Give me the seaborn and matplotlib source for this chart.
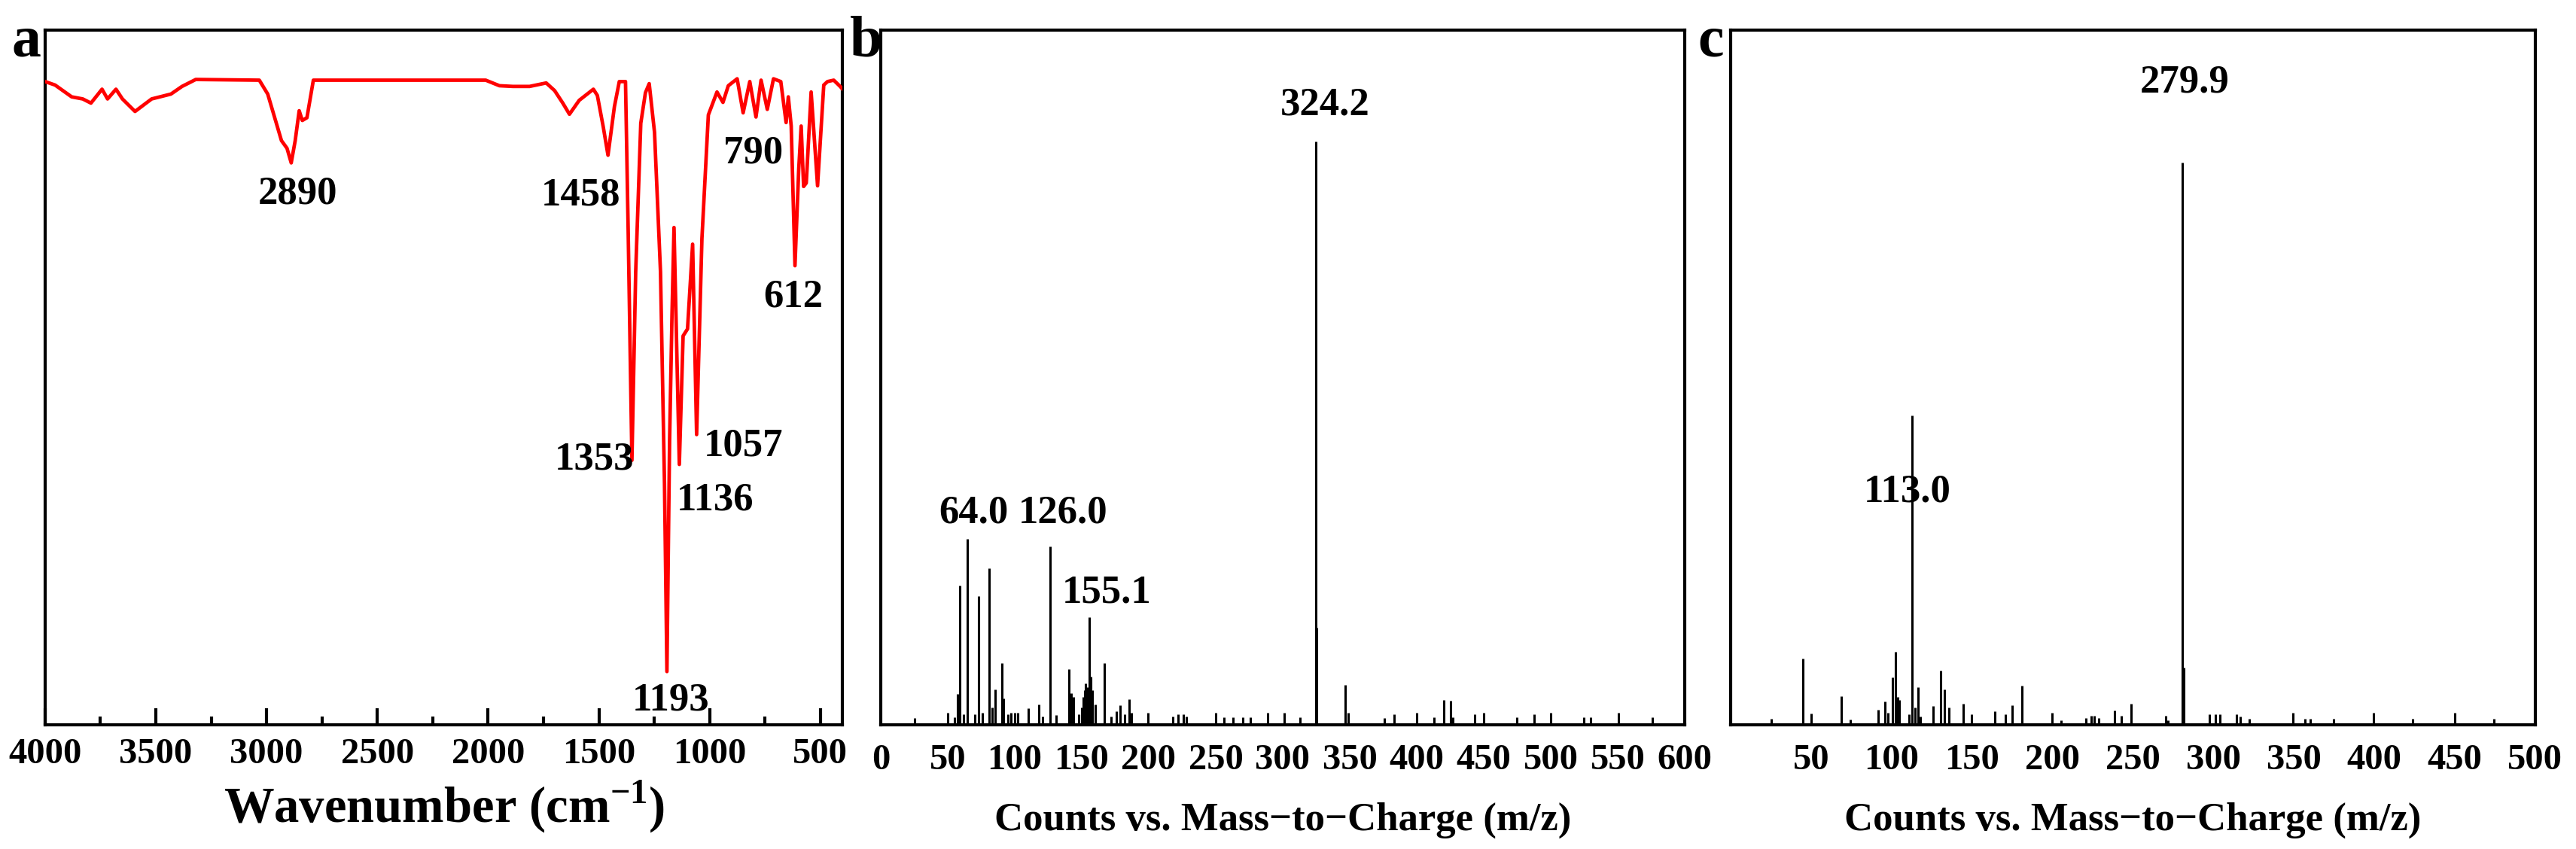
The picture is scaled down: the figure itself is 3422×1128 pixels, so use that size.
import numpy as np
import pandas as pd
import matplotlib
matplotlib.use("Agg")
import matplotlib.pyplot as plt
from matplotlib.ticker import MultipleLocator
import seaborn as sns

# FT-IR spectrum (wavenumber, transmittance in axis %)
ir_wn = [4000, 3955, 3880, 3830, 3793, 3743, 3718, 3680, 3651, 3594, 3519, 3432,
         3382, 3320, 3033, 2995, 2970, 2933, 2908, 2889, 2871, 2853, 2839, 2818,
         2789, 2011, 1949, 1888, 1813, 1738, 1700, 1663, 1633, 1589, 1525, 1507,
         1480, 1459, 1430, 1408, 1380, 1368, 1351, 1334, 1311, 1290, 1273, 1249,
         1222, 1204, 1193, 1181, 1170, 1161, 1137, 1120, 1100, 1077, 1059, 1035,
         1006, 967, 940, 916, 900, 876, 849, 819, 791, 768, 740, 712, 679, 655,
         645, 632, 615, 598, 587, 576, 564, 542, 513, 485, 468, 440, 411, 400]
ir_t = [92.6, 92.1, 90.4, 90.1, 89.5, 91.5, 90.1, 91.5, 90.1, 88.3, 90.1, 90.8,
        91.9, 92.9, 92.8, 90.8, 88.1, 84.1, 83.0, 80.9, 84.1, 88.4, 87.0, 87.4,
        92.8, 92.8, 92.0, 91.9, 91.9, 92.4, 91.3, 89.5, 87.9, 89.9, 91.5, 90.6,
        86.0, 82.0, 89.0, 92.6, 92.6, 71.3, 38.1, 65.2, 86.6, 91.0, 92.3, 85.3,
        65.2, 34.8, 7.7, 40.9, 59.2, 71.6, 37.5, 56.0, 57.0, 69.2, 41.8, 70.0,
        87.8, 91.1, 89.6, 92.0, 92.4, 93.0, 88.1, 92.6, 87.5, 92.8, 88.6, 93.0,
        92.6, 86.7, 90.4, 86.2, 66.1, 80.0, 86.2, 77.5, 78.0, 91.1, 77.6, 92.1,
        92.6, 92.8, 91.9, 91.5]
ir_labels = ["2890", "1458", "790", "612", "1353", "1057", "1136", "1193"]
ir_label_x = [2859, 1582, 804, 624, 1521, 849, 974, 1175]
ir_label_y = [76.4, 76.2, 82.3, 61.6, 38.2, 40.2, 32.4, 3.6]

# mass spectrum b
b_mz = [25.2, 49.9, 55, 57.5, 59.2, 62, 64.7, 70, 72.9, 76, 81.1, 83, 85.4, 90.7,
        91.5, 95, 97, 100, 102, 110, 118, 121, 126.2, 131, 140.2, 142, 144, 148,
        150, 151, 152, 153, 154, 155.6, 156.5, 157, 158, 160, 167.1, 172, 176,
        178.9, 182, 185.3, 187, 199.3, 218, 222, 226, 228, 249.8, 256, 263, 270,
        276, 289, 301, 312.8, 324.7, 325.5, 346.5, 349, 375.6, 383, 400, 413,
        420, 425.3, 427, 443, 450, 474.7, 487.4, 500, 525, 530, 550.6, 576]
b_counts = [1.0, 1.8, 1.1, 4.5, 20.1, 1.5, 26.8, 1.5, 18.6, 1.8, 22.6, 2.5, 5.1, 8.9,
            3.8, 1.5, 1.8, 1.8, 1.8, 2.4, 3.0, 1.2, 25.7, 1.4, 8.1, 4.6, 4.0, 1.5,
            2.5, 4.0, 5.0, 6.0, 5.5, 15.5, 6.8, 7.0, 5.0, 3.0, 8.9, 1.2, 2.0,
            2.8, 1.5, 3.7, 1.8, 1.8, 1.2, 1.6, 1.6, 1.2, 1.8, 1.1, 1.1, 1.1,
            1.1, 1.8, 1.8, 1.1, 84.0, 14.0, 5.8, 1.8, 1.0, 1.5, 1.8, 1.1,
            3.6, 3.5, 1.1, 1.5, 1.8, 1.1, 1.5, 1.8, 1.1, 1.1, 1.8, 1.1]
b_labels = ["324.2", "64.0", "126.0", "155.1"]
b_label_x = [331.5, 69.1, 136.0, 168.5]
b_label_y = [89.2, 30.5, 30.5, 19.0]

# mass spectrum c
c_mz = [25.1, 44.8, 50, 68.8, 74.5, 91.7, 96.1, 98, 100.6, 102.7, 104, 105, 111,
        112.7, 114.5, 116.3, 118, 126, 130.7, 133, 135.5, 144.4, 149.7, 164.2,
        170.6, 175, 181.1, 199.6, 205.5, 221, 224, 226, 229, 238.8, 243, 249.1,
        270.6, 272, 280.8, 281.5, 297.5, 301.2, 304, 314.2, 316.5, 322.5, 349.5,
        357, 360, 374.6, 399.3, 423.7, 449.9, 474.4]
c_counts = [0.9, 9.6, 1.7, 4.2, 0.8, 2.2, 3.4, 1.8, 6.9, 10.5, 4.0, 3.6, 1.6,
            44.6, 2.5, 5.4, 1.2, 2.7, 7.8, 5.1, 2.5, 3.1, 1.6, 2.0,
            1.6, 2.9, 5.7, 1.8, 0.7, 1.0, 1.3, 1.3, 1.0, 2.1, 1.3, 3.1,
            1.3, 0.7, 80.9, 8.3, 1.6, 1.5, 1.5, 1.5, 1.2, 0.9, 1.8,
            0.9, 0.9, 0.9, 1.8, 0.9, 1.8, 0.9]
c_labels = ["279.9", "113.0"]
c_label_x = [282.0, 110.0]
c_label_y = [92.5, 33.6]

sns.set_theme(style="white")
plt.rcParams['font.family'] = ['Liberation Serif', 'DejaVu Serif']
plt.rcParams['font.weight'] = 'bold'
plt.rcParams['text.color'] = 'black'
plt.rcParams['axes.labelcolor'] = 'black'
plt.rcParams['xtick.color'] = 'black'
plt.rcParams['xtick.bottom'] = True
plt.rcParams['xtick.direction'] = 'in'
plt.rcParams['xtick.major.size'] = 16
plt.rcParams['xtick.minor.size'] = 8
plt.rcParams['xtick.major.width'] = 3
plt.rcParams['xtick.minor.width'] = 3
plt.rcParams['mathtext.fontset'] = 'custom'
plt.rcParams['mathtext.rm'] = 'Liberation Serif:bold'
plt.rcParams['mathtext.bf'] = 'Liberation Serif:bold'

fig = plt.figure(figsize=(34.23, 11.28), dpi=100)
ax_a = fig.add_axes([0.0175, 0.146, 0.3095, 0.8185])
ax_b = fig.add_axes([0.3418, 0.146, 0.312, 0.8185])
ax_c = fig.add_axes([0.6716, 0.146, 0.3123, 0.8185])

tick_fs = 35
ann_fs = 38

# a: IR
ir_df = pd.DataFrame({'wn': ir_wn, 't': ir_t})
sns.lineplot(data=ir_df, x='wn', y='t', sort=False, estimator=None,
             color='#ff0000', lw=3.4, ax=ax_a, zorder=3)
ax_a.set_xlim(4000, 400)
ax_a.set_ylim(0, 100)
ax_a.set_yticks([])
ax_a.set_ylabel('')
ax_a.set_xticks(range(4000, 499, -500))
ax_a.xaxis.set_minor_locator(MultipleLocator(250))
ax_a.tick_params(axis='x', which='major', bottom=True, direction='in', length=16,
                 width=3, color='black', labelsize=tick_fs, pad=12)
ax_a.tick_params(axis='x', which='minor', bottom=True, direction='in', length=8,
                 width=3, color='black')
ax_a.set_xlabel('Wavenumber (cm$^{-1}$)', fontsize=48, fontweight='bold', labelpad=8)
for s, x, y in zip(ir_labels, ir_label_x, ir_label_y):
    ax_a.text(x, y, s, fontsize=ann_fs, fontweight='bold', ha='center', va='center',
              color='black')

# b, c: MS
for ax, mz, cnt, labs, lx, ly, xmax, ticks in [
        (ax_b, b_mz, b_counts, b_labels, b_label_x, b_label_y, 600, range(0, 601, 50)),
        (ax_c, c_mz, c_counts, c_labels, c_label_x, c_label_y, 500, range(50, 501, 50))]:
    ax.vlines(mz, 0, cnt, color='black', lw=2.2)
    ax.set_xlim(0, xmax)
    ax.set_ylim(0, 100)
    ax.set_yticks([])
    ax.set_xticks(list(ticks))
    ax.tick_params(axis='x', which='both', length=0, labelsize=tick_fs, pad=18)
    ax.set_xlabel('Counts vs. Mass\u2212to\u2212Charge (m/z)', fontsize=38,
                  fontweight='bold', labelpad=24)
    for s, x, y in zip(labs, lx, ly):
        ax.text(x, y, s, fontsize=ann_fs, fontweight='bold', ha='center', va='center',
                color='black')

for ax in [ax_a, ax_b, ax_c]:
    for sp in ax.spines.values():
        sp.set_color('black')
        sp.set_linewidth(3)
    ax.set_facecolor('white')
    for lab in ax.get_xticklabels():
        lab.set_fontweight('bold')

fig.text(0.0044, 0.934, 'a', fontsize=56, fontweight='bold', va='baseline')
fig.text(0.3298, 0.934, 'b', fontsize=56, fontweight='bold', va='baseline')
fig.text(0.6588, 0.934, 'c', fontsize=56, fontweight='bold', va='baseline')

fig.savefig('out.png', dpi=100, facecolor='white')
